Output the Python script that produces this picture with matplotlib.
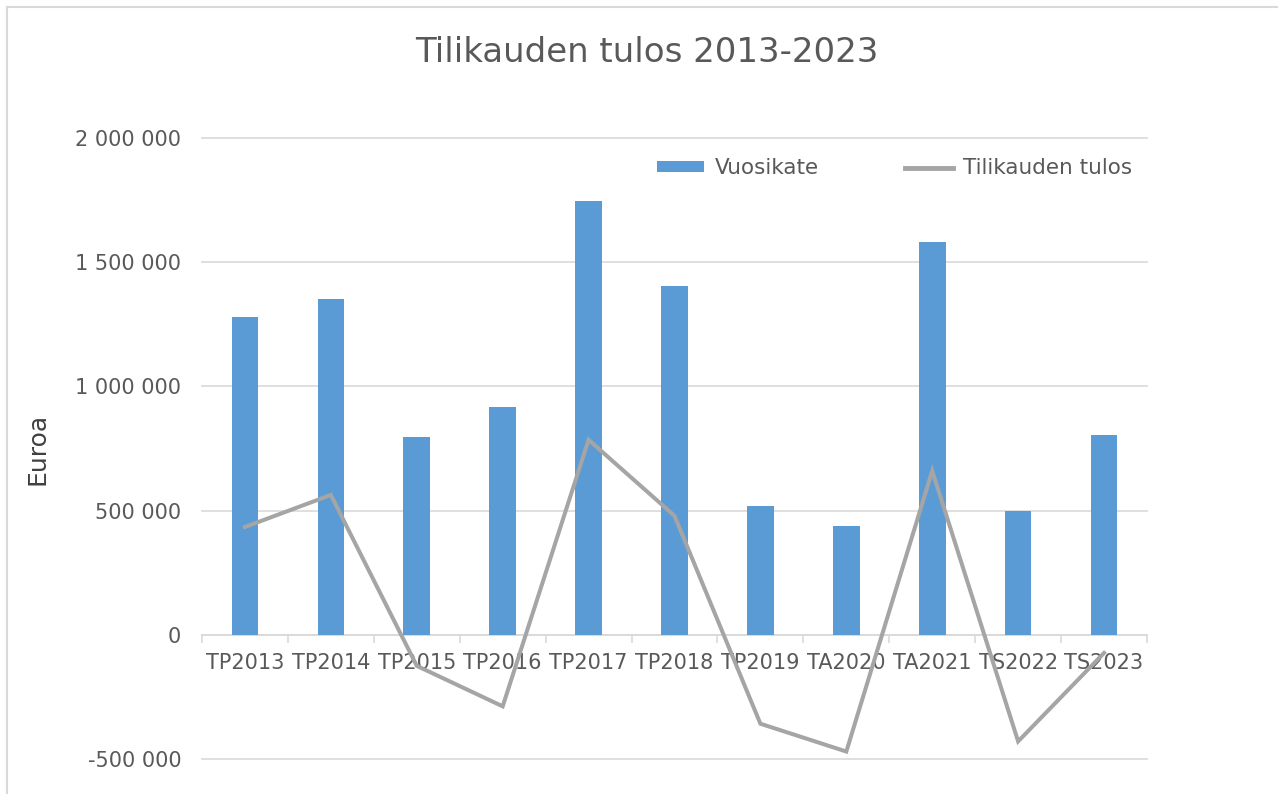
import matplotlib
matplotlib.use("Agg")
import matplotlib.pyplot as plt
from matplotlib.lines import Line2D
from matplotlib.patches import Patch
import numpy as np

categories = ["TP2013", "TP2014", "TP2015", "TP2016", "TP2017", "TP2018",
              "TP2019", "TA2020", "TA2021", "TS2022", "TS2023"]
vuosikate = [1280000, 1352000, 797000, 917000, 1746000, 1404000,
             519000, 438000, 1581000, 499000, 805000]
tilikauden_tulos = [434000, 563000, -125000, -288000, 785000, 479000,
                    -358000, -470000, 660000, -429000, -73000]
yticks = [-500000, 0, 500000, 1000000, 1500000, 2000000]

plt.rcParams['font.family'] = ['DejaVu Sans']
TXT = "#595959"

fig = plt.figure(figsize=(12.78, 7.94), dpi=100)
ax = fig.add_axes([202/1278, 1-759/794, (1147-202)/1278, (759-138)/794])

x = np.arange(len(categories))
ax.bar(x, vuosikate, width=0.31, color="#5b9bd5", zorder=2, label="Vuosikate")
ax.plot(x, tilikauden_tulos, color="#a5a5a5", lw=2.9, zorder=3,
        solid_joinstyle="miter", label="Tilikauden tulos")

ax.set_xlim(-0.5, len(categories) - 0.5)
ax.set_ylim(-500000, 2000000)
ax.set_yticks(yticks)
ax.set_yticklabels([f"{v:,.0f}".replace(",", " ") for v in yticks])
ax.yaxis.grid(True, color="#d9d9d9", lw=1.2, zorder=0)
for gl in ax.get_ygridlines():
    gl.set_clip_on(False)
ax.set_axisbelow(True)

for s in ["top", "right", "left"]:
    ax.spines[s].set_visible(False)
ax.spines["bottom"].set_position(("data", 0))
ax.spines["bottom"].set_color("#d9d9d9")
ax.spines["bottom"].set_linewidth(1.2)
ax.spines["bottom"].set_zorder(1)

ax.set_xticks(x)
ax.set_xticklabels(categories)
ax.set_xticks(np.arange(-0.5, len(categories)), minor=True)
ax.tick_params(axis="x", which="major", length=0, pad=13, labelsize=15, labelcolor=TXT)
ax.tick_params(axis="x", which="minor", length=6, width=1.2, color="#d9d9d9")
ax.tick_params(axis="y", length=0, pad=15, labelsize=15, labelcolor=TXT)

ax.set_ylabel("Euroa", fontsize=18, color="#404040")
ax.yaxis.set_label_coords(-0.161, 0.50)

fig.text(0.506, 0.934, "Tilikauden tulos 2013-2023", ha="center", va="center",
         fontsize=24.5, color=TXT)

handles = [Patch(facecolor="#5b9bd5", edgecolor="none"),
           Line2D([0], [0], color="#a5a5a5", lw=3.5)]
leg = fig.legend(handles, ["Vuosikate", "Tilikauden tulos"], ncol=2,
                 loc="center", bbox_to_anchor=(0.700, 0.788), frameon=False,
                 fontsize=15.5, handlelength=2.2, handleheight=0.45,
                 columnspacing=4.0, handletextpad=0.5)
for t in leg.get_texts():
    t.set_color(TXT)

# chart border (left and top)
fig.add_artist(Line2D([7/1278, 7/1278], [0, 1-7/794], color="#d9d9d9", lw=1.5,
                      transform=fig.transFigure))
fig.add_artist(Line2D([7/1278, 1], [1-7/794, 1-7/794], color="#d9d9d9", lw=1.5,
                      transform=fig.transFigure))

fig.savefig("out.png", dpi=100)
